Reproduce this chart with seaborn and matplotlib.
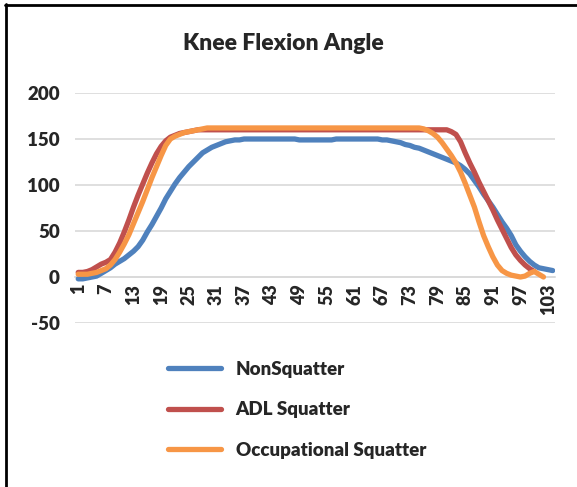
import numpy as np
import pandas as pd
import matplotlib
matplotlib.use("Agg")
import matplotlib.pyplot as plt
from matplotlib.lines import Line2D
import seaborn as sns

title = "Knee Flexion Angle"
series_names = ["NonSquatter", "ADL Squatter", "Occupational Squatter"]
colors = ["#4F81BD", "#C0504D", "#F79646"]
y_ticks = [-50, 0, 50, 100, 150, 200]
x_tick_labels = [1, 7, 13, 19, 25, 31, 37, 43, 49, 55, 61, 67, 73, 79, 85, 91, 97, 103]

nonsquatter = [
    -2, -2, -1, 0, 1, 4, 7, 10, 14, 17,
    20, 24, 28, 33, 40, 49, 57, 66, 75, 85,
    93, 101, 108, 114, 120, 125, 130, 135, 138, 141,
    143, 145, 147, 148, 149, 149, 150, 150, 150, 150,
    150, 150, 150, 150, 150, 150, 150, 150, 149, 149,
    149, 149, 149, 149, 149, 149, 150, 150, 150, 150,
    150, 150, 150, 150, 150, 150, 149, 149, 148, 147,
    146, 144, 143, 141, 140, 138, 136, 134, 132, 130,
    128, 126, 124, 121, 117, 112, 105, 98, 90, 83,
    76, 68, 60, 53, 45, 35, 28, 22, 17, 13,
    10, 9, 8, 7,
]

adl_squatter = [
    5, 5, 6, 8, 11, 14, 16, 19, 27, 37,
    49, 62, 76, 89, 101, 113, 124, 134, 142, 148,
    152, 154, 156, 157, 158, 159, 160, 160, 160, 160,
    160, 160, 160, 160, 160, 160, 160, 160, 160, 160,
    160, 160, 160, 160, 160, 160, 160, 160, 160, 160,
    160, 160, 160, 160, 160, 160, 160, 160, 160, 160,
    160, 160, 160, 160, 160, 160, 160, 160, 160, 160,
    160, 160, 160, 160, 160, 160, 160, 160, 160, 160,
    160, 158, 155, 147, 135, 124, 114, 103, 93, 83,
    73, 62, 52, 42, 32, 24, 18, 13, 9, 6,
]

occupational_squatter = [
    3, 3, 3, 4, 5, 7, 9, 13, 19, 27,
    36, 46, 58, 70, 82, 95, 108, 120, 132, 143,
    150, 153, 155, 157, 158, 159, 160, 161, 162, 162,
    162, 162, 162, 162, 162, 162, 162, 162, 162, 162,
    162, 162, 162, 162, 162, 162, 162, 162, 162, 162,
    162, 162, 162, 162, 162, 162, 162, 162, 162, 162,
    162, 162, 162, 162, 162, 162, 162, 162, 162, 162,
    162, 162, 162, 162, 162, 161, 159, 156, 152, 146,
    139, 132, 124, 114, 102, 89, 76, 60, 45, 33,
    22, 13, 7, 4, 2, 1, 0, 1, 4, 6,
    3, 0,
]

frames = []
for name, vals in zip(series_names, [nonsquatter, adl_squatter, occupational_squatter]):
    frames.append(pd.DataFrame({"Frame": np.arange(1, len(vals) + 1),
                                "Angle": vals, "Group": name}))
df = pd.concat(frames, ignore_index=True)

sns.set_style("white")
plt.rcParams["font.family"] = ["Lato", "DejaVu Sans"]

W, H = 577, 487
fig = plt.figure(figsize=(W / 100, H / 100), dpi=100)
ax = fig.add_axes([75 / W, 1 - 323 / H, (555 - 75) / W, (323 - 93) / H])

sns.lineplot(data=df, x="Frame", y="Angle", hue="Group", hue_order=series_names,
             palette=colors, linewidth=3.8, ax=ax, legend=True,
             solid_capstyle="round", solid_joinstyle="round", zorder=3)

handles, labels = ax.get_legend_handles_labels()
ax.get_legend().remove()

for s in ["top", "right", "left"]:
    ax.spines[s].set_visible(False)
ax.spines["bottom"].set_position(("data", 0))
ax.spines["bottom"].set_color("#d9d9d9")
ax.spines["bottom"].set_linewidth(1.2)

ax.set_xlim(0.3, 104.5)
ax.set_ylim(-50, 200)
ax.set_yticks(y_ticks)
ax.set_yticklabels([str(v) for v in y_ticks], fontsize=13.5, fontweight="heavy")
ax.set_xticks(x_tick_labels)
ax.set_xticklabels([str(v) for v in x_tick_labels], rotation=90, fontsize=13,
                   fontweight="heavy")
ax.tick_params(axis="both", length=0)
ax.tick_params(axis="y", pad=11)
ax.tick_params(axis="x", pad=5)
ax.set_xlabel("")
ax.set_ylabel("")

ax.grid(axis="y", color="#d9d9d9", linewidth=1.2)
ax.grid(axis="x", visible=False)
ax.set_axisbelow(True)

fig.text(283 / W, 1 - 43 / H, title, ha="center", va="center", fontsize=16.5,
         fontweight="heavy")

fig.legend(handles, labels, loc="upper left", bbox_to_anchor=(168 / W, 1 - 361 / H),
           frameon=False, prop={"size": 13.5, "weight": "heavy"}, handlelength=2.8,
           handletextpad=0.8, labelspacing=1.25, borderpad=0, borderaxespad=0)

fig.add_artist(Line2D([6 / W, 6 / W], [0, 1 - 4 / H], color="black", lw=2,
                      transform=fig.transFigure))
fig.add_artist(Line2D([5 / W, 1], [1 - 5 / H, 1 - 5 / H], color="black", lw=2,
                      transform=fig.transFigure))

fig.savefig("out.png", dpi=100)
